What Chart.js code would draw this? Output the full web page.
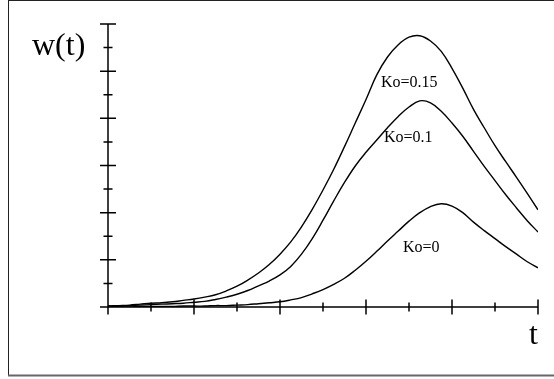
<!DOCTYPE html>
<html>
<head>
<meta charset="utf-8">
<script src="https://cdn.jsdelivr.net/npm/chart.js@4/dist/chart.umd.min.js"></script>
<style>
html,body{margin:0;padding:0;background:#fff;}
canvas{display:block;}
</style>
</head>
<body>
<canvas id="c" width="554" height="379"></canvas>
<script>
const tValues = [0,0.125,0.25,0.375,0.5,0.625,0.75,0.875,1,1.125,1.25,1.375,1.5,1.625,1.75,1.875,2,2.125,2.25,2.375,2.5,2.625,2.75,2.875,3,3.125,3.25,3.375,3.5,3.625,3.75,3.875,4,4.125,4.25,4.375,4.5,4.625,4.75,4.875,5];
const wKo015 = [0.02,0.03,0.04,0.06,0.08,0.09,0.11,0.14,0.17,0.21,0.26,0.34,0.44,0.57,0.72,0.9,1.12,1.38,1.7,2.07,2.48,2.92,3.4,3.9,4.4,4.92,5.3,5.56,5.72,5.75,5.64,5.42,5.06,4.64,4.19,3.8,3.42,3.08,2.75,2.41,2.06];
const wKo010 = [0.02,0.02,0.03,0.04,0.05,0.06,0.07,0.08,0.1,0.12,0.16,0.21,0.27,0.35,0.45,0.55,0.68,0.86,1.12,1.45,1.84,2.25,2.64,2.99,3.28,3.54,3.8,4.04,4.24,4.37,4.33,4.15,3.9,3.62,3.3,2.98,2.68,2.38,2.1,1.83,1.59];
const wKo000 = [0.0,0.0,0.0,0.01,0.01,0.01,0.01,0.02,0.02,0.02,0.03,0.03,0.04,0.05,0.07,0.09,0.11,0.15,0.2,0.28,0.37,0.48,0.61,0.78,0.97,1.18,1.4,1.61,1.82,2.0,2.13,2.19,2.14,2.0,1.8,1.62,1.45,1.28,1.12,0.96,0.83];
const seriesNames = ["Ko=0.15","Ko=0.1","Ko=0"];
const xMajorTicks = [0,1,2,3,4,5];
const xMinorTicks = [0.5,1.5,2.5,3.5,4.5];
const yMajorTicks = [0,1,2,3,4,5,6];
const yMinorTicks = [0.5,1.5,2.5,3.5,4.5,5.5];
const yTitle = "w(t)";
const xTitle = "t";

function pts(ys){ return tValues.map((t,i)=>({x:t,y:ys[i]})); }

const serif = "'Liberation Serif','Times New Roman',serif";

const axesPlugin = {
  id:'axesPlugin',
  afterDraw(chart){
    const ctx = chart.ctx;
    const xs = chart.scales.x, ys = chart.scales.y;
    const x0 = xs.getPixelForValue(0), y0 = ys.getPixelForValue(0);
    ctx.save();
    ctx.strokeStyle = '#222';
    ctx.lineWidth = 1;
    ctx.beginPath();
    ctx.moveTo(8.5,0); ctx.lineTo(8.5,375);
    ctx.moveTo(8,0.5); ctx.lineTo(554,0.5);
    ctx.stroke();
    ctx.strokeStyle = '#666';
    ctx.lineWidth = 2;
    ctx.beginPath();
    ctx.moveTo(8,375.5); ctx.lineTo(554,375.5);
    ctx.stroke();

    ctx.strokeStyle = '#000';
    ctx.lineWidth = 1.5;
    ctx.beginPath();
    ctx.moveTo(x0, y0); ctx.lineTo(x0, ys.getPixelForValue(6));
    ctx.moveTo(x0, y0); ctx.lineTo(xs.getPixelForValue(5), y0);
    yMajorTicks.forEach(v=>{const p=ys.getPixelForValue(v); ctx.moveTo(x0-8,p); ctx.lineTo(x0+8,p);});
    yMinorTicks.forEach(v=>{const p=ys.getPixelForValue(v); ctx.moveTo(x0-4.5,p); ctx.lineTo(x0+4.5,p);});
    xMajorTicks.forEach(v=>{const p=xs.getPixelForValue(v); ctx.moveTo(p,y0-7.5); ctx.lineTo(p,y0+7.5);});
    xMinorTicks.forEach(v=>{const p=xs.getPixelForValue(v); ctx.moveTo(p,y0-4.5); ctx.lineTo(p,y0+4.5);});
    ctx.stroke();

    ctx.fillStyle = '#000';
    ctx.textBaseline = 'alphabetic';
    ctx.textAlign = 'left';
    ctx.font = '32px ' + serif;
    ctx.fillText(yTitle, 32, 55);
    ctx.fillText(xTitle, 529, 344);

    ctx.font = '16px ' + serif;
    ctx.fillText(seriesNames[0], 381, 87);
    ctx.fillText(seriesNames[1], 384, 142);
    ctx.fillText(seriesNames[2], 403, 252);
    ctx.restore();
  }
};

new Chart(document.getElementById('c'), {
  type:'line',
  data:{
    datasets:[
      {label:seriesNames[0], data:pts(wKo015)},
      {label:seriesNames[1], data:pts(wKo010)},
      {label:seriesNames[2], data:pts(wKo000)}
    ].map(d=>Object.assign(d,{borderColor:'#000',borderWidth:1.4,pointRadius:0,tension:0.4,fill:false}))
  },
  options:{
    responsive:false,
    animation:false,
    devicePixelRatio:1,
    layout:{padding:{left:108,right:16,top:24,bottom:72}},
    plugins:{legend:{display:false},tooltip:{enabled:false}},
    scales:{
      x:{type:'linear',min:0,max:5,display:false},
      y:{type:'linear',min:0,max:6,display:false}
    }
  },
  plugins:[axesPlugin]
});
</script>
</body>
</html>
